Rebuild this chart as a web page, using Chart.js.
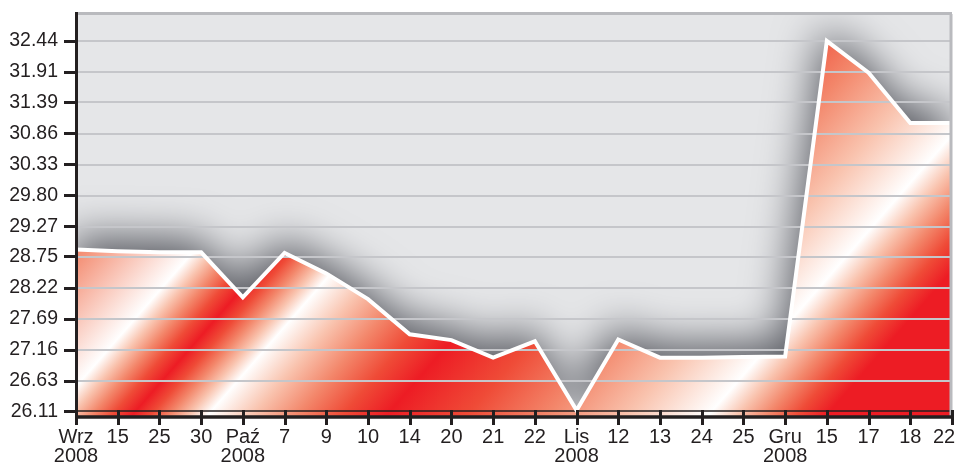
<!DOCTYPE html>
<html>
<head>
<meta charset="utf-8">
<script src="https://cdn.jsdelivr.net/npm/chart.js@4/dist/chart.umd.min.js"></script>
<style>
  html, body { margin: 0; padding: 0; background: #fff; }
</style>
</head>
<body>
<canvas id="chart" width="955" height="464"></canvas>
<script>
// dates on the x axis (month names get the year underneath)
const categories = [
    ['Wrz', '2008'], '15', '25', '30',
    ['Paź', '2008'], '7', '9', '10', '14', '20', '21', '22',
    ['Lis', '2008'], '12', '13', '24', '25',
    ['Gru', '2008'], '15', '17', '18', '22'
];
const values = [
    28.88, 28.85, 28.83, 28.83,
    28.06, 28.82, 28.47, 28.03, 27.43, 27.33, 27.03, 27.31,
    26.13, 27.34, 27.03, 27.03, 27.04,
    27.05, 32.44, 31.90, 31.04, 31.04
];
const yTickValues = [26.11, 26.63, 27.16, 27.69, 28.22, 28.75, 29.27, 29.80, 30.33, 30.86, 31.39, 31.91, 32.44];

const INK = '#231f20';
const FONT = '"Liberation Sans", Arial, sans-serif';

// diagonal red / white bands of the area: [position, 'r' | 'w']
const bands = [[0.311, 'w'], [0.372, 'r'], [0.429, 'w'], [0.564, 'r'], [0.807, 'w'], [0.896, 'r']];
const RED = '#ed1c24', WHITE = '#ffffff';
const redToWhite = ['#ef4b37', '#f3876b', '#f9c3ae']; // 25%, 50%, 75% from red

function areaGradient(ctx) {
    const g = ctx.createLinearGradient(0, 0, 755, 656);
    g.addColorStop(0, '#f07a5e');
    g.addColorStop(0.221, '#f3876b');
    for (let i = 0; i < bands.length; i++) {
        const [p, k] = bands[i];
        g.addColorStop(p, k === 'r' ? RED : WHITE);
        const next = bands[i + 1];
        if (!next) break;
        const d = next[0] - p;
        [0.25, 0.5, 0.75].forEach((f, j) => {
            const c = k === 'r' ? redToWhite[j] : redToWhite[2 - j];
            g.addColorStop(p + d * f, c);
        });
    }
    g.addColorStop(1, RED);
    return g;
}

const framePlugin = {
    id: 'frame',
    beforeDraw(chart) {
        const { ctx, chartArea: a, scales: { x } } = chart;
        ctx.save();
        ctx.fillStyle = '#e5e6e8';
        ctx.fillRect(a.left, a.top, a.right - a.left, a.bottom - a.top);
        ctx.restore();
        // keep the last date label inside the canvas
        const items = x.getLabelItems(a);
        const last = items[items.length - 1];
        if (last && !last._moved) { last.options.translation[0] -= 8; last._moved = true; }
    },
    beforeDatasetsDraw(chart) {
        // soft dark glow above the area (the filler draws with it)
        const ctx = chart.ctx;
        ctx.save();
        ctx.shadowColor = 'rgba(62, 64, 72, 0.85)';
        ctx.shadowBlur = 44;
        ctx.shadowOffsetX = -4;
        ctx.shadowOffsetY = -14;
    },
    beforeDatasetDraw(chart) {
        const { ctx, chartArea: a, scales: { y } } = chart;
        ctx.restore();
        // horizontal rules sit on top of the fill
        ctx.save();
        y.ticks.forEach((t, i) => {
            const py = Math.round(y.getPixelForValue(t.value));
            ctx.strokeStyle = i === 0 ? INK : '#c5c6ca';
            ctx.lineWidth = i === 0 ? 1.5 : 2;
            ctx.beginPath();
            ctx.moveTo(a.left, py);
            ctx.lineTo(a.right, py);
            ctx.stroke();
        });
        ctx.restore();
    },
    afterDraw(chart) {
        const { ctx, chartArea: a, scales: { x } } = chart;
        ctx.save();
        ctx.strokeStyle = '#b9babe';
        ctx.lineWidth = 3;
        ctx.beginPath();
        ctx.moveTo(a.left, a.top - 0.5);
        ctx.lineTo(a.right, a.top - 0.5);
        ctx.moveTo(a.right - 1, a.top);
        ctx.lineTo(a.right - 1, a.bottom);
        ctx.stroke();

        ctx.strokeStyle = INK;
        ctx.lineWidth = 3.5;
        ctx.beginPath();
        ctx.moveTo(a.left, a.bottom);
        ctx.lineTo(a.right + 1, a.bottom);
        ctx.stroke();
        ctx.lineWidth = 3;
        ctx.beginPath();
        ctx.moveTo(a.left + 0.5, a.top - 2);
        ctx.lineTo(a.left + 0.5, a.bottom + 8);
        ctx.stroke();
        // x tick marks cross the axis line
        x.ticks.forEach((t, i) => {
            const px = Math.round(x.getPixelForTick(i)) + 0.5;
            ctx.beginPath();
            ctx.moveTo(px, a.bottom - 7);
            ctx.lineTo(px, a.bottom + 8);
            ctx.stroke();
        });
        ctx.restore();
    }
};

new Chart(document.getElementById('chart'), {
    type: 'line',
    data: {
        labels: categories,
        datasets: [{
            data: values,
            borderColor: '#ffffff',
            borderWidth: 4,
            pointRadius: 0,
            tension: 0,
            fill: 'start',
            backgroundColor: c => areaGradient(c.chart.ctx)
        }]
    },
    options: {
        responsive: false,
        animation: false,
        devicePixelRatio: 1,
        layout: { autoPadding: false, padding: { top: 14, right: 3, left: 0, bottom: 0 } },
        plugins: { legend: { display: false }, tooltip: { enabled: false } },
        scales: {
            x: {
                offset: false,
                border: { display: false },
                grid: { drawOnChartArea: false, drawTicks: false },
                ticks: {
                    autoSkip: false, maxRotation: 0, minRotation: 0,
                    padding: 11, color: INK,
                    font: { family: FONT, size: 20, lineHeight: 0.95 }
                },
                afterFit(s) { s.height = 47; s.paddingLeft = 0; s.paddingRight = 0; }
            },
            y: {
                min: 26.016,
                max: 32.902,
                border: { display: false },
                grid: { drawOnChartArea: false, drawTicks: true, tickLength: 12, tickWidth: 3, tickColor: INK },
                afterBuildTicks(s) { s.ticks = yTickValues.map(v => ({ value: v })); },
                ticks: {
                    padding: 6, color: INK,
                    font: { family: FONT, size: 19.5 },
                    callback: v => v.toFixed(2)
                },
                afterFit(s) { s.width = 76; s.paddingTop = 0; s.paddingBottom = 0; }
            }
        }
    },
    plugins: [framePlugin]
});
</script>
</body>
</html>
